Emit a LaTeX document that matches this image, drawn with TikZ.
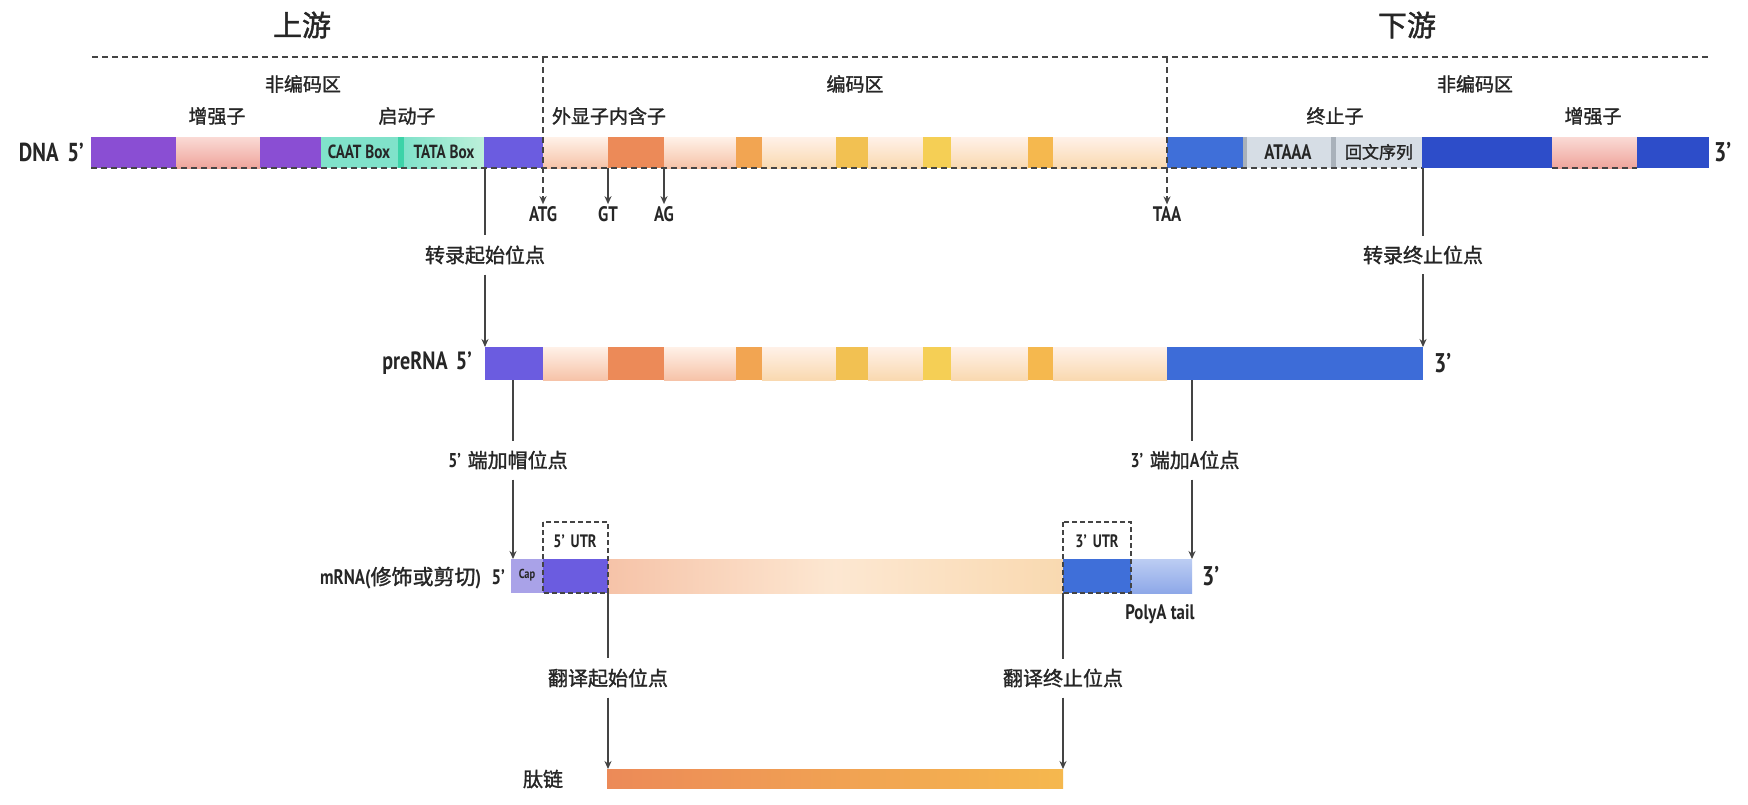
\documentclass[tikz,border=0pt]{standalone}
\usepackage{fontspec}
\setmainfont{Noto Sans CJK SC}[FakeBold=1.4]
\newfontfamily\lat{PT Sans Bold}[FakeStretch=0.8]
\usetikzlibrary{arrows.meta}
\newcommand\fs[1]{\fontsize{#1}{#1}\selectfont}
\definecolor{txt}{HTML}{262626}
\definecolor{ln}{HTML}{444444}
\definecolor{dpurple}{HTML}{8A4ED3}
\definecolor{bpurple}{HTML}{6B5CE0}
\definecolor{pinkT}{HTML}{FADAD5}
\definecolor{pinkB}{HTML}{EFA59C}
\definecolor{teal}{HTML}{80E2CA}
\definecolor{tealD}{HTML}{3CD3A8}
\definecolor{tealL}{HTML}{BDF0DA}
\definecolor{exT}{HTML}{FFF1E8}
\definecolor{exB}{HTML}{F6C3A8}
\definecolor{exB2}{HTML}{F9D9B0}
\definecolor{inA}{HTML}{EC8A58}
\definecolor{inB}{HTML}{F2A552}
\definecolor{inC}{HTML}{F2C152}
\definecolor{inD}{HTML}{F5CF55}
\definecolor{inE}{HTML}{F5B84E}
\definecolor{blu}{HTML}{3F6FD9}
\definecolor{dblu}{HTML}{2D4DC9}
\definecolor{gry}{HTML}{D6DDE5}
\definecolor{gryD}{HTML}{A9B1BA}
\definecolor{capc}{HTML}{A9A2E8}
\definecolor{polyT}{HTML}{BCCDF3}
\definecolor{polyB}{HTML}{8EA8E8}
\begin{document}
\begin{tikzpicture}[x=1pt,y=-1pt,
  lbl/.style={text=txt,inner sep=1pt,font=\fs{19}},
  big/.style={text=txt,inner sep=1pt,font=\fs{29}},
  site/.style={text=txt,inner xsep=2pt,inner ysep=10pt,font=\fs{20}},
  conn/.style={draw=ln,line width=1.4pt},
  arr/.style={draw=ln,line width=1.4pt,-{Stealth[length=8pt,width=7pt]}},
  dsh/.style={draw=ln,line width=1.4pt,dash pattern=on 6pt off 4pt},
  exon/.style={top color=exT,bottom color=exB},
  exon2/.style={top color=exT,bottom color=exB2},
  pinkseg/.style={top color=pinkT,bottom color=pinkB}]
\useasboundingbox (0,0) rectangle (1748,804);
\fill[white] (0,0) rectangle (1748,804);

% ---------- top labels ----------
\node[big] (up) at (302,25) {上游};
\node[big] (down) at (1407,25) {下游};
\draw[dsh] (92,57) -- (1708,57);
\node[lbl] (nc1) at (303,84) {非编码区};
\node[lbl] (cr) at (855,84) {编码区};
\node[lbl] (nc2) at (1475,84) {非编码区};
\node[lbl] (enh1) at (217,116) {增强子};
\node[lbl] (prom) at (407,116) {启动子};
\node[lbl] (exin) at (609,116) {外显子内含子};
\node[lbl] (term) at (1335,116) {终止子};
\node[lbl] (enh2) at (1593,116) {增强子};

% ---------- DNA bar ----------
\def\t{137}\def\b{168}
\fill[dpurple] (91,\t) rectangle (176,\b);
\shade[pinkseg] (176,\t) rectangle (260,\b);
\fill[dpurple] (260,\t) rectangle (321,\b);
\fill[teal] (321,\t) rectangle (398,\b);
\fill[tealD] (398,\t) rectangle (404,\b);
\shade[left color=teal,right color=tealL] (404,\t) rectangle (484,\b);
\fill[bpurple] (484,\t) rectangle (543,\b);
\shade[exon] (543,\t) rectangle (608,\b);
\fill[inA] (608,\t) rectangle (664,\b);
\shade[exon] (664,\t) rectangle (736,\b);
\fill[inB] (736,\t) rectangle (762,\b);
\shade[exon2] (762,\t) rectangle (836,\b);
\fill[inC] (836,\t) rectangle (868,\b);
\shade[exon2] (868,\t) rectangle (923,\b);
\fill[inD] (923,\t) rectangle (951,\b);
\shade[exon2] (951,\t) rectangle (1028,\b);
\fill[inE] (1028,\t) rectangle (1053,\b);
\shade[exon2] (1053,\t) rectangle (1167,\b);
\fill[blu] (1167,\t) rectangle (1243,\b);
\fill[gry] (1243,\t) rectangle (1422,\b);
\fill[gryD] (1243,\t) rectangle (1247,\b);
\fill[gryD] (1331,\t) rectangle (1336,\b);
\fill[dblu] (1422,\t) rectangle (1552,\b);
\shade[pinkseg] (1552,\t) rectangle (1637,\b);
\fill[dblu] (1637,\t) rectangle (1709,\b);
\draw[dsh] (91,\b) -- (1422,\b);
\draw[dsh] (1552,\b) -- (1637,\b);
\node[text=txt,inner sep=0pt,font=\lat\fs{19}] (caat) at (359,152) {CAAT Box};
\node[text=txt,inner sep=0pt,font=\lat\fs{19}] (tata) at (444,152) {TATA Box};
\node[text=txt,inner sep=0pt,font=\lat\fs{21}] (ataaa) at (1288,152) {ATAAA};
\node[text=txt,inner sep=0pt,font=\fs{17}] (huiwen) at (1379,152) {回文序列};
\node[text=txt,inner sep=0pt,anchor=east,font=\lat\fs{26}] (dna5) at (84,152) {DNA\,\,5’};
\node[text=txt,inner sep=0pt,anchor=west,font=\lat\fs{27}] (dna3) at (1714,152) {3’};

% ---------- codon markers ----------
\node[text=txt,inner sep=2pt,font=\lat\fs{21}] (atg) at (543,214) {ATG};
\node[text=txt,inner sep=2pt,font=\lat\fs{21}] (gt) at (608,214) {GT};
\node[text=txt,inner sep=2pt,font=\lat\fs{21}] (ag) at (664,214) {AG};
\node[text=txt,inner sep=2pt,font=\lat\fs{21}] (taa) at (1167,214) {TAA};
\coordinate (atg0) at (543,57);
\coordinate (taa0) at (1167,57);
\coordinate (gt0) at (608,168);
\coordinate (ag0) at (664,168);
\draw[dsh] (atg0) -- ([yshift=6pt]atg.north);
\draw[dsh] (taa0) -- ([yshift=6pt]taa.north);
\draw[arr] ([yshift=8pt]atg.north) -- (atg.north);
\draw[arr] ([yshift=8pt]taa.north) -- (taa.north);
\draw[arr] (gt0) -- (gt.north);
\draw[arr] (ag0) -- (ag.north);

% ---------- transcription ----------
\coordinate (ts0) at (485,168);
\coordinate (te0) at (1423,168);
\coordinate (ts1) at (485,347);
\coordinate (te1) at (1423,347);
\node[site] (tss) at (485,255) {转录起始位点};
\node[site] (tes) at (1423,255) {转录终止位点};
\draw[conn] (ts0) -- (tss.north);
\draw[arr] (tss.south) -- (ts1);
\draw[conn] (te0) -- (tes.north);
\draw[arr] (tes.south) -- (te1);

% ---------- preRNA bar ----------
\def\t{347}\def\b{380}
\fill[bpurple] (485,\t) rectangle (543,\b);
\shade[exon] (543,\t) rectangle (608,\b);
\fill[inA] (608,\t) rectangle (664,\b);
\shade[exon] (664,\t) rectangle (736,\b);
\fill[inB] (736,\t) rectangle (762,\b);
\shade[exon2] (762,\t) rectangle (836,\b);
\fill[inC] (836,\t) rectangle (868,\b);
\shade[exon2] (868,\t) rectangle (923,\b);
\fill[inD] (923,\t) rectangle (951,\b);
\shade[exon2] (951,\t) rectangle (1028,\b);
\fill[inE] (1028,\t) rectangle (1053,\b);
\shade[exon2] (1053,\t) rectangle (1167,\b);
\fill[blu!92!dblu] (1167,\t) rectangle (1423,\b);
\node[text=txt,inner sep=0pt,anchor=east,font=\lat\fs{25}] (pre5) at (472,363) {preRNA\,\,5’};
\node[text=txt,inner sep=0pt,anchor=west,font=\lat\fs{27}] (pre3) at (1434,363) {3’};

% ---------- processing ----------
\coordinate (cp0) at (513,380);
\coordinate (cp1) at (513,559);
\coordinate (pa0) at (1192,380);
\coordinate (pa1) at (1192,559);
\node[site] (capl) at (508,460) {{\lat 5’}\,\,端加帽位点};
\node[site] (pal) at (1185,460) {{\lat 3’}\,\,端加{\lat A}位点};
\draw[conn] (cp0) -- (cp0 |- capl.north);
\draw[arr] (cp0 |- capl.south) -- (cp1);
\draw[conn] (pa0) -- (pa0 |- pal.north);
\draw[arr] (pa0 |- pal.south) -- (pa1);

% ---------- mRNA bar ----------
\def\t{559}\def\b{593}
\fill[capc] (511,\t) rectangle (543,\b);
\fill[bpurple] (543,\t) rectangle (608,\b);
\shade[left color=exB,right color=exB2,middle color=exT!60!exB2] (608,\t) rectangle (1063,\b);
\fill[blu] (1063,\t) rectangle (1131,\b);
\shade[top color=polyT,bottom color=polyB] (1131,\t) rectangle (1192,\b);
\draw[dsh,line width=1.3pt,dash pattern=on 5pt off 3pt] (543,522) rectangle (608,593);
\draw[dsh,line width=1.3pt,dash pattern=on 5pt off 3pt] (1063,522) rectangle (1131,593);
\node[text=txt,inner sep=0pt,font=\lat\fs{18}] (utr5) at (575,541) {5’\,\,UTR};
\node[text=txt,inner sep=0pt,font=\lat\fs{18}] (utr3) at (1097,541) {3’\,\,UTR};
\node[text=txt,inner sep=0pt,font=\lat\fs{13}] (capt) at (527,575) {Cap};
\node[text=txt,inner sep=0pt,anchor=east,font=\fs{21}] (m5) at (505,578) {{\lat mRNA(}修饰或剪切{\lat )\,\,\,5’}};
\node[text=txt,inner sep=0pt,anchor=west,font=\lat\fs{27}] (m3) at (1202,576) {3’};
\node[text=txt,inner sep=0pt,font=\lat\fs{21}] (poly) at (1160,614) {PolyA tail};

% ---------- translation ----------
\coordinate (tl0) at (608,593);
\coordinate (tl1) at (608,769);
\coordinate (tx0) at (1063,593);
\coordinate (tx1) at (1063,769);
\node[site] (tls) at (608,678) {翻译起始位点};
\node[site] (tle) at (1063,678) {翻译终止位点};
\draw[conn] (tl0) -- (tls.north);
\draw[arr] (tls.south) -- (tl1);
\draw[conn] (tx0) -- (tle.north);
\draw[arr] (tle.south) -- (tx1);

% ---------- peptide ----------
\shade[left color=inA,middle color=inD,right color=inE] (607,769) rectangle (1063,788);
\node[text=txt,inner sep=0pt,font=\fs{20}] (pep) at (543,779) {肽链};
\end{tikzpicture}
\end{document}
